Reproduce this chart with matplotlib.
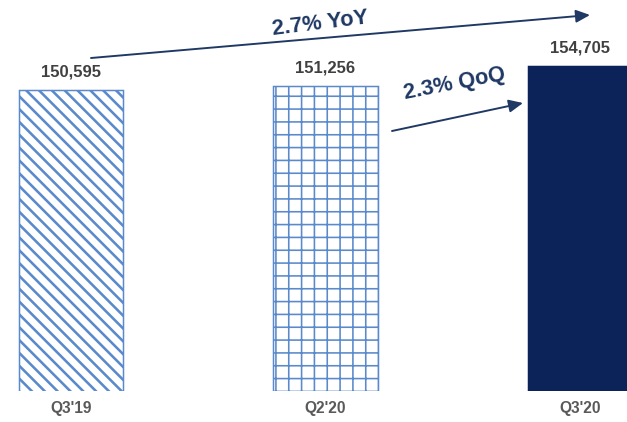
import matplotlib
matplotlib.use("Agg")
import matplotlib.pyplot as plt

# Data
categories = ["Q3'19", "Q2'20", "Q3'20"]
values = [150595, 151256, 154705]
value_labels = ["150,595", "151,256", "154,705"]
yoy_label = "2.7% YoY"
qoq_label = "2.3% QoQ"

DPI = 77
W, H = 627, 422
PT = 72 / DPI  # pixels -> points

plt.rcParams['font.family'] = ['Liberation Sans', 'DejaVu Sans']
plt.rcParams['hatch.linewidth'] = 1.6

fig = plt.figure(figsize=(W / DPI, H / DPI), dpi=DPI)
ax = fig.add_axes([0, 1 - 391 / H, 1, 391 / H])

blue = '#5A8ACB'
navy = '#0B2359'
arrow_navy = '#1F3864'

x = list(range(len(categories)))
width = 0.409
hatches = ['\\\\', '+', None]
faces = ['white', 'white', navy]
edges = [blue, blue, navy]
hlw = [2.4, 1.5, 1.0]

bars = ax.bar(x, values, width=width, color=faces, edgecolor=edges, linewidth=1.4)
for b, h, lw in zip(bars, hatches, hlw):
    if h:
        b.set_hatch(h)
        if hasattr(b, 'set_hatch_linewidth'):
            b.set_hatch_linewidth(lw)

ax.set_xlim(-71 / 254.5, 2 + 47 / 254.5)
ax.set_ylim(99049, 99049 + 391 * 171.25)

for xi, v, lab in zip(x, values, value_labels):
    ax.annotate(lab, (xi, v), xytext=(0, 11 * PT), textcoords='offset points',
                ha='center', va='bottom', fontsize=15.5, fontweight='bold', color='#404040')

ax.set_xticks(x)
ax.set_xticklabels(categories, fontsize=14.5, fontweight='bold', color='#595959')
ax.tick_params(axis='x', length=0, pad=10 * PT)
ax.tick_params(axis='y', left=False, labelleft=False)
for s in ax.spines.values():
    s.set_visible(False)


def fp(px, py):
    return (px / W, 1 - py / H)


# YoY arrow
ax.annotate('', xy=fp(590, 15), xytext=fp(91, 58), xycoords='figure fraction',
            textcoords='figure fraction',
            arrowprops=dict(arrowstyle='-|>,head_length=1.1,head_width=0.5',
                            color=arrow_navy, lw=1.8, shrinkA=0, shrinkB=0))
fig.text(*fp(320, 24), yoy_label, rotation=7, ha='center', va='center',
         fontsize=20.5, fontweight='bold', color=arrow_navy, rotation_mode='anchor')

# QoQ arrow
ax.annotate('', xy=fp(523, 103), xytext=fp(392, 131), xycoords='figure fraction',
            textcoords='figure fraction',
            arrowprops=dict(arrowstyle='-|>,head_length=1.1,head_width=0.5',
                            color=arrow_navy, lw=1.8, shrinkA=0, shrinkB=0))
fig.text(*fp(455, 84), qoq_label, rotation=11, ha='center', va='center',
         fontsize=20.5, fontweight='bold', color=arrow_navy, rotation_mode='anchor')

fig.savefig('out.png', dpi=DPI)
